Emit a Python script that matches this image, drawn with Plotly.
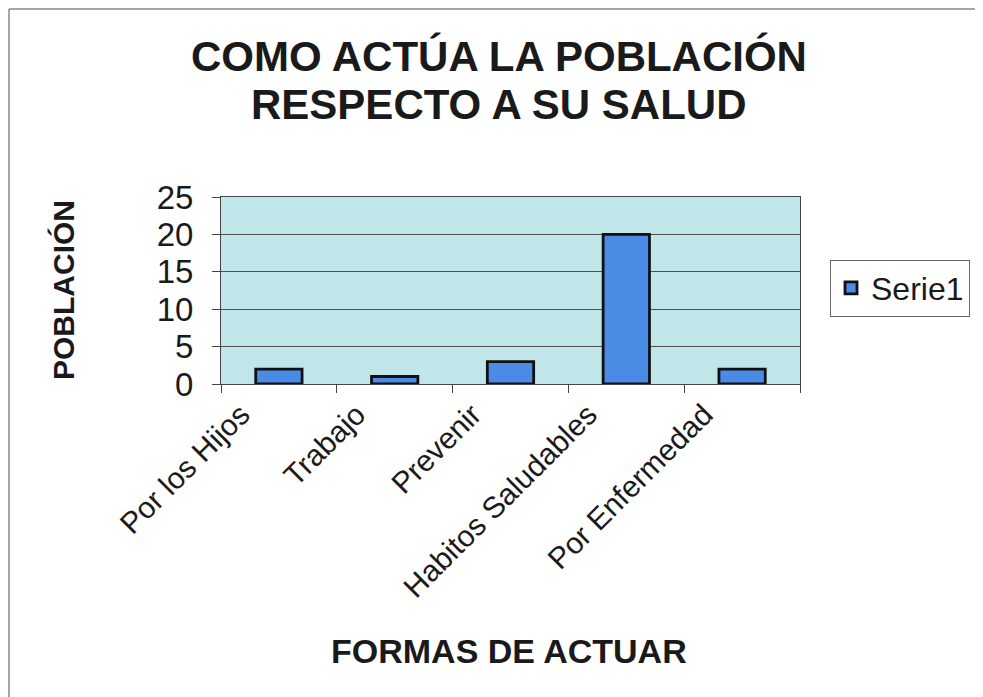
import plotly.graph_objects as go

categories = ["Por los Hijos", "Trabajo", "Prevenir", "Habitos Saludables", "Por Enfermedad"]
values = [2, 1, 3, 20, 2]
y_ticks = [0, 5, 10, 15, 20, 25]
series_name = "Serie1"
title_lines = ["COMO ACTÚA LA POBLACIÓN", "RESPECTO A SU SALUD"]
x_title = "FORMAS DE ACTUAR"
y_title = "POBLACIÓN"

W, H = 983, 697
OFF = 8  # page body margin in the browser
# target plot area in screenshot pixels
PX0, PX1, PY0, PY1 = 221, 800, 197, 384
L = PX0 - OFF
T = PY0 - OFF
R = W - (PX1 - OFF)
B = H - (PY1 - OFF)
pw = PX1 - PX0
ph = PY1 - PY0


def px_x(p):
    return (p - PX0) / pw


def px_y(p):
    return (PY1 - p) / ph


FONT = "Liberation Sans, Arial, sans-serif"
TXT = "#1a1a1a"

fig = go.Figure()
fig.add_trace(go.Bar(
    x=categories, y=values, name=series_name,
    marker=dict(color="#4a8be6", line=dict(color="#111111", width=2.8)),
    showlegend=True,
))

fig.update_layout(
    width=W, height=H,
    margin=dict(l=L, r=R, t=T, b=B, autoexpand=False),
    paper_bgcolor="white",
    plot_bgcolor="#c0e6e9",
    bargap=0.6,
    font=dict(family=FONT, color=TXT),
    showlegend=True,
    legend=dict(
        x=px_x(830), y=px_y(288), xanchor="left", yanchor="middle",
        bgcolor="white", bordercolor="#666666", borderwidth=1,
        font=dict(family=FONT, size=32, color=TXT),
    ),
    xaxis=dict(
        type="category",
        tickangle=-45,
        tickfont=dict(family=FONT, size=30, color=TXT),
        showline=True, linecolor="#444444", linewidth=1, mirror=True,
        ticks="outside", ticklen=8, tickcolor="#444444",
        tickson="boundaries",
        ticklabelshift=-38,
        showgrid=False,
        automargin=False,
    ),
    yaxis=dict(
        range=[0, 25],
        tickvals=y_ticks,
        tickfont=dict(family=FONT, size=33, color=TXT),
        showline=True, linecolor="#444444", linewidth=1, mirror=True,
        ticks="outside", ticklen=8, tickcolor="#444444",
        ticklabelstandoff=12,
        showgrid=True, gridcolor="#505050", gridwidth=1,
        zeroline=False,
        automargin=False,
    ),
    annotations=[
        dict(text="<b>" + title_lines[0] + "</b>", xref="paper", yref="paper",
             x=px_x(499), y=px_y(56), xanchor="center", yanchor="middle",
             showarrow=False, font=dict(family=FONT, size=42, color=TXT)),
        dict(text="<b>" + title_lines[1] + "</b>", xref="paper", yref="paper",
             x=px_x(499), y=px_y(104), xanchor="center", yanchor="middle",
             showarrow=False, font=dict(family=FONT, size=42, color=TXT)),
        dict(text="<b>" + x_title + "</b>", xref="paper", yref="paper",
             x=px_x(509), y=px_y(651), xanchor="center", yanchor="middle",
             showarrow=False, font=dict(family=FONT, size=34, color=TXT)),
        dict(text="<b>" + y_title + "</b>", xref="paper", yref="paper",
             x=px_x(63), y=px_y(290), xanchor="center", yanchor="middle",
             textangle=-90,
             showarrow=False, font=dict(family=FONT, size=30, color=TXT)),
    ],
    shapes=[
        dict(type="line", xref="paper", yref="paper",
             x0=px_x(OFF + 1), x1=px_x(1000), y0=px_y(OFF + 1), y1=px_y(OFF + 1),
             line=dict(color="#888888", width=1.5)),
        dict(type="line", xref="paper", yref="paper",
             x0=px_x(OFF + 1), x1=px_x(OFF + 1), y0=px_y(OFF + 1), y1=px_y(710),
             line=dict(color="#888888", width=1.5)),
    ],
)

fig.write_html("out.html")
